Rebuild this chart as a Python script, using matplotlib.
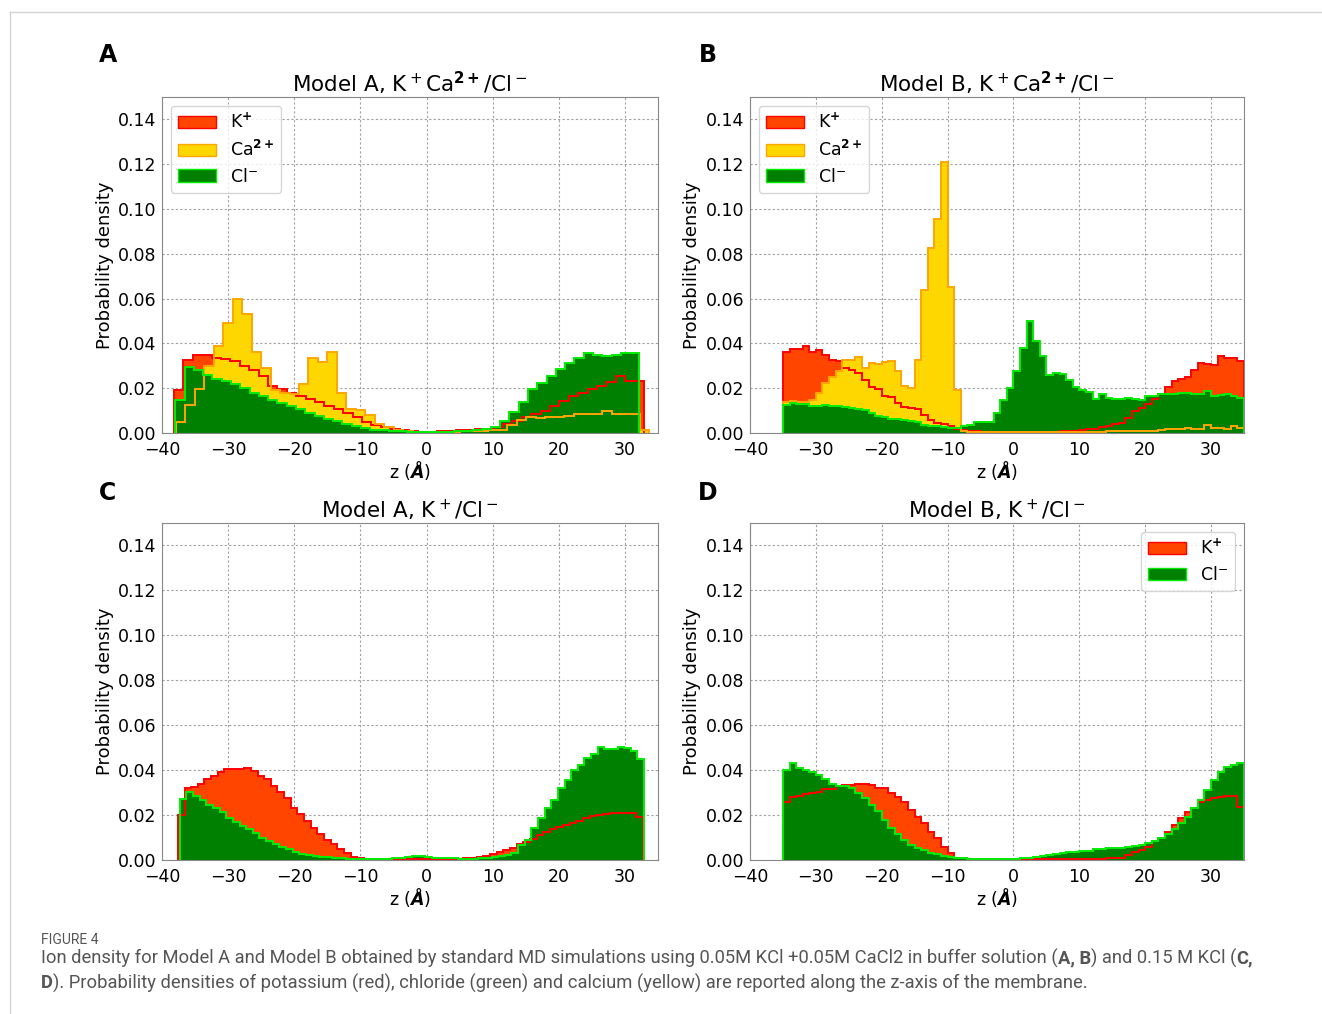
import numpy as np
import matplotlib
matplotlib.use("Agg")
import matplotlib.pyplot as plt
import matplotlib.patches as mpatches
from matplotlib.lines import Line2D

plt.rcParams['font.family'] = 'DejaVu Sans'

# ---- data (probability densities) ----
# panel A: Model A, K+ Ca2+ / Cl-  (50 bins each)
K_A = [0.019, 0.0327, 0.0347, 0.035, 0.0337, 0.033, 0.032, 0.030, 0.028, 0.0255,
       0.021, 0.0195, 0.018, 0.0165, 0.015, 0.0137, 0.012, 0.0105, 0.009, 0.007,
       0.005, 0.0037, 0.0028, 0.0018, 0.0012, 0.0008, 0.0006, 0.0006, 0.0007, 0.0009,
       0.0012, 0.0014, 0.0017, 0.002, 0.0027, 0.004, 0.0054, 0.007, 0.0087, 0.010,
       0.012, 0.0144, 0.0165, 0.0179, 0.0195, 0.021, 0.0227, 0.0253, 0.023, 0.023]
Ca_A = [0.005, 0.0124, 0.0195, 0.030, 0.0387, 0.049, 0.060, 0.053, 0.036, 0.029,
        0.019, 0.018, 0.0175, 0.022, 0.0335, 0.0315, 0.036, 0.018, 0.0105, 0.0102,
        0.008, 0.0042, 0.0027, 0.0015, 0.001, 0.0006, 0.0005, 0.0005, 0.0005, 0.0006,
        0.0008, 0.001, 0.0011, 0.0012, 0.0015, 0.0035, 0.0057, 0.007, 0.0065, 0.007,
        0.0072, 0.0078, 0.0087, 0.0083, 0.0087, 0.0096, 0.0087, 0.0085, 0.0085, 0.0015]
Cl_A = [0.0147, 0.0294, 0.028, 0.026, 0.024, 0.023, 0.0217, 0.020, 0.018, 0.0165,
        0.0147, 0.0132, 0.012, 0.0105, 0.0088, 0.0075, 0.0064, 0.0052, 0.0042, 0.003,
        0.0022, 0.0015, 0.0012, 0.001, 0.0008, 0.0006, 0.0005, 0.0005, 0.0005, 0.0006,
        0.0008, 0.001, 0.0013, 0.0018, 0.0027, 0.0054, 0.0095, 0.014, 0.0195, 0.0225,
        0.0255, 0.0285, 0.0312, 0.0335, 0.0355, 0.035, 0.0345, 0.035, 0.0355, 0.0355]

# panel B: Model B, K+ Ca2+ / Cl-  (70 bins, -35..35)
K_B = [0.0362, 0.0377, 0.0373, 0.039, 0.0362, 0.037, 0.0346, 0.0328, 0.032, 0.029,
       0.0283, 0.027, 0.0238, 0.0206, 0.0197, 0.0164, 0.016, 0.0134, 0.0116, 0.0112,
       0.0107, 0.0082, 0.0057, 0.0045, 0.0042, 0.0033, 0.0018, 0.0012, 0.001, 0.0008,
       0.0006, 0.0005, 0.0005, 0.0005, 0.0005, 0.0005, 0.0005, 0.0005, 0.0005, 0.0005,
       0.0005, 0.0006, 0.0007, 0.0008, 0.001, 0.0012, 0.0016, 0.0018, 0.0028, 0.003,
       0.0039, 0.0046, 0.0069, 0.0099, 0.011, 0.0131, 0.0154, 0.0173, 0.0207, 0.0233,
       0.024, 0.0248, 0.0282, 0.0312, 0.0307, 0.0303, 0.0345, 0.0333, 0.0337, 0.0322]
Ca_B = [0.0137, 0.0142, 0.014, 0.0138, 0.0149, 0.018, 0.0224, 0.025, 0.0276, 0.0325,
        0.0325, 0.034, 0.029, 0.0313, 0.031, 0.0317, 0.0323, 0.0276, 0.0212, 0.0201,
        0.0328, 0.064, 0.0825, 0.0957, 0.121, 0.065, 0.0194, 0.001, 0.0005, 0.0004,
        0.0003, 0.0003, 0.0003, 0.0003, 0.0003, 0.0003, 0.0003, 0.0003, 0.0003, 0.0003,
        0.0003, 0.0003, 0.0003, 0.0004, 0.0004, 0.0005, 0.0005, 0.0006, 0.0006, 0.0007,
        0.0007, 0.0007, 0.0008, 0.0008, 0.0008, 0.0009, 0.001, 0.0012, 0.0016, 0.0016,
        0.0016, 0.0024, 0.002, 0.002, 0.0034, 0.0024, 0.0024, 0.0016, 0.003, 0.0024]
Cl_B = [0.0127, 0.0134, 0.013, 0.013, 0.0122, 0.012, 0.0127, 0.0122, 0.012, 0.0116,
        0.0112, 0.0107, 0.0101, 0.009, 0.0078, 0.0072, 0.0063, 0.0063, 0.0057, 0.0052,
        0.0048, 0.0037, 0.0033, 0.003, 0.0025, 0.0022, 0.0022, 0.003, 0.0035, 0.005,
        0.005, 0.005, 0.009, 0.0148, 0.020, 0.0278, 0.0378, 0.050, 0.041, 0.0345,
        0.026, 0.0267, 0.0263, 0.0237, 0.0207, 0.019, 0.0185, 0.0154, 0.0173, 0.0158,
        0.0154, 0.0154, 0.0158, 0.015, 0.0148, 0.0163, 0.0166, 0.0176, 0.0173, 0.0176,
        0.0178, 0.018, 0.0173, 0.0173, 0.0188, 0.0163, 0.0169, 0.0173, 0.0163, 0.0158]

# panel C: Model A, K+ / Cl-  (70 bins)
K_C = [0.020, 0.032, 0.0326, 0.034, 0.036, 0.0375, 0.039, 0.0403, 0.0404, 0.0407,
       0.041, 0.0396, 0.0375, 0.036, 0.033, 0.0304, 0.0277, 0.023, 0.0203, 0.0173,
       0.0144, 0.0114, 0.0089, 0.007, 0.0049, 0.003, 0.0015, 0.0007, 0.0005, 0.0004,
       0.0003, 0.0003, 0.0003, 0.0003, 0.0003, 0.0003, 0.0003, 0.0003, 0.0003, 0.0003,
       0.0004, 0.0005, 0.0006, 0.0008, 0.001, 0.0015, 0.002, 0.0025, 0.0034, 0.0044,
       0.0055, 0.007, 0.0079, 0.0093, 0.011, 0.0126, 0.0138, 0.0148, 0.0156, 0.0163,
       0.0175, 0.0185, 0.0196, 0.020, 0.0203, 0.021, 0.0207, 0.0207, 0.0207, 0.0193]
Cl_C = [0.027, 0.0304, 0.0286, 0.0267, 0.0244, 0.023, 0.0212, 0.0188, 0.017, 0.0153,
        0.0138, 0.0119, 0.0099, 0.0084, 0.007, 0.0059, 0.0049, 0.0034, 0.0028, 0.0022,
        0.0018, 0.0015, 0.0012, 0.0009, 0.0007, 0.0005, 0.0004, 0.0003, 0.0003, 0.0003,
        0.0004, 0.0006, 0.0008, 0.001, 0.0012, 0.0017, 0.002, 0.0015, 0.0011, 0.001,
        0.001, 0.0008, 0.0006, 0.0006, 0.0006, 0.0008, 0.001, 0.0013, 0.0017, 0.0022,
        0.003, 0.0067, 0.0089, 0.0144, 0.0185, 0.0233, 0.0267, 0.0321, 0.0356, 0.040,
        0.0422, 0.0452, 0.0474, 0.0504, 0.0496, 0.0496, 0.0504, 0.0498, 0.0485, 0.045]

# panel D: Model B, K+ / Cl-  (70 bins, -35..35)
K_D = [0.026, 0.0281, 0.0286, 0.0292, 0.0296, 0.0304, 0.0314, 0.0316, 0.0328, 0.0336,
       0.0333, 0.0339, 0.0339, 0.0333, 0.0322, 0.032, 0.030, 0.028, 0.026, 0.0224,
       0.0193, 0.0163, 0.0126, 0.0096, 0.006, 0.003, 0.0011, 0.0007, 0.0005, 0.0003,
       0.0003, 0.0003, 0.0003, 0.0003, 0.0003, 0.0003, 0.0003, 0.0003, 0.0003, 0.0003,
       0.0003, 0.0003, 0.0003, 0.0003, 0.0003, 0.0003, 0.0005, 0.0005, 0.0005, 0.0007,
       0.0007, 0.001, 0.0022, 0.0034, 0.0044, 0.006, 0.0084, 0.0099, 0.0123, 0.0156,
       0.0185, 0.0215, 0.0233, 0.026, 0.0267, 0.0274, 0.0281, 0.0284, 0.0284, 0.0237]
Cl_D = [0.040, 0.043, 0.041, 0.040, 0.039, 0.0378, 0.036, 0.034, 0.033, 0.033,
        0.0321, 0.030, 0.0274, 0.0244, 0.0218, 0.0178, 0.0144, 0.0114, 0.0089, 0.0067,
        0.0055, 0.0044, 0.0033, 0.0025, 0.0019, 0.0015, 0.001, 0.0008, 0.0006, 0.0005,
        0.0004, 0.0004, 0.0004, 0.0004, 0.0005, 0.0006, 0.0008, 0.001, 0.0013, 0.0016,
        0.0022, 0.0027, 0.003, 0.0034, 0.0037, 0.004, 0.0042, 0.0047, 0.0048, 0.0052,
        0.0053, 0.0055, 0.0058, 0.0061, 0.0067, 0.0074, 0.0084, 0.0096, 0.0114, 0.0138,
        0.0163, 0.0193, 0.023, 0.0267, 0.0311, 0.0356, 0.0393, 0.0415, 0.0425, 0.043]

# z ranges covered by each histogram (first and last bin edge)
range_K_A, range_Ca_A, range_Cl_A = (-38.2, 32.9), (-37.9, 33.7), (-38.0, 32.2)
range_B = (-35.0, 35.0)
range_K_C, range_Cl_C = (-37.6, 32.7), (-37.3, 32.9)
range_D = (-35.0, 35.0)

titles = ['Model A, K$^+$Ca$^{\\mathbf{2+}}$/Cl$^-$',
          'Model B, K$^+$Ca$^{\\mathbf{2+}}$/Cl$^-$',
          'Model A, K$^+$/Cl$^-$',
          'Model B, K$^+$/Cl$^-$']
letters = ['A', 'B', 'C', 'D']
yticks = [0.00, 0.02, 0.04, 0.06, 0.08, 0.10, 0.12, 0.14]
xticks = [-40, -30, -20, -10, 0, 10, 20, 30]

ions = {'K': ('K$^{\\mathbf{+}}$', '#ff4500', '#ff0000'),
        'Ca': ('Ca$^{\\mathbf{2+}}$', '#ffd700', '#ffa500'),
        'Cl': ('Cl$^{-}$', '#008000', '#00ee00')}

W, H = 1322, 1014
fig = plt.figure(figsize=(W / 100, H / 100), dpi=100)


def px_axes(l, t, r, b):
    return fig.add_axes([l / W, 1 - b / H, (r - l) / W, (b - t) / H])


def draw_panel(ax, series, title, ylab_x):
    # fills first, then the outlines on top (as in the original)
    for ion, vals, rng in series:
        edges = np.linspace(rng[0], rng[1], len(vals) + 1)
        ax.stairs(vals, edges, fill=True, color=ions[ion][1], lw=0)
    for ion, vals, rng in series:
        edges = np.linspace(rng[0], rng[1], len(vals) + 1)
        ax.stairs(vals, edges, color=ions[ion][2], lw=1.4)
    ax.set_xlim(-40, 35)
    ax.set_ylim(0, 0.15)
    ax.set_xticks(xticks)
    ax.set_yticks(yticks)
    ax.set_yticklabels(['%.2f' % v for v in yticks])
    ax.tick_params(labelsize=12.5, length=0)
    ax.tick_params(axis='y', pad=4)
    ax.tick_params(axis='x', pad=5.5)
    ax.grid(True, ls=(0, (2, 2)), color='#a0a0a0', lw=0.8)
    ax.set_axisbelow(True)
    for s in ax.spines.values():
        s.set_color('#888888')
    ax.set_title(title, fontsize=15.5, pad=3)
    ax.set_xlabel('z ($\\mathbfit{\\AA}$)', fontsize=12.5, labelpad=0)
    ax.set_ylabel('Probability density', fontsize=13)
    ax.yaxis.set_label_coords(ylab_x, 0.5)


def legend(ax, keys, loc):
    handles = [mpatches.Patch(facecolor=ions[k][1], edgecolor=ions[k][2], label=ions[k][0])
               for k in keys]
    ax.legend(handles=handles, loc=loc, fontsize=12.5, handlelength=2.2, labelspacing=0.45)


axA = px_axes(162, 97, 658, 433)
axB = px_axes(750, 97, 1244, 433)
axC = px_axes(162, 523, 658, 860)
axD = px_axes(750, 523, 1244, 860)

draw_panel(axA, [('K', K_A, range_K_A), ('Ca', Ca_A, range_Ca_A), ('Cl', Cl_A, range_Cl_A)], titles[0], -0.097)
draw_panel(axB, [('K', K_B, range_B), ('Ca', Ca_B, range_B), ('Cl', Cl_B, range_B)], titles[1], -0.099)
draw_panel(axC, [('K', K_C, range_K_C), ('Cl', Cl_C, range_Cl_C)], titles[2], -0.097)
draw_panel(axD, [('K', K_D, range_D), ('Cl', Cl_D, range_D)], titles[3], -0.099)

legend(axA, ['K', 'Ca', 'Cl'], 'upper left')
legend(axB, ['K', 'Ca', 'Cl'], 'upper left')
legend(axD, ['K', 'Cl'], 'upper right')

for letter, (x, y) in zip(letters, [(108, 55), (708, 55), (108, 493), (708, 493)]):
    fig.text(x / W, 1 - y / H, letter, fontsize=17, fontweight='bold', ha='center', va='center')

# page frame of the article figure
fig.add_artist(Line2D([10 / W, 1], [1 - 12 / H] * 2, color='#d4d4d4', lw=1))
fig.add_artist(Line2D([10 / W] * 2, [0, 1 - 12 / H], color='#d4d4d4', lw=1))

# caption
cap_color = '#555555'
fig.text(41 / W, 1 - 940 / H, 'FIGURE 4', fontsize=10, color=cap_color,
         fontfamily='Roboto', va='center')

line1 = [('Ion density for Model A and Model B obtained by standard MD simulations using '
          '0.05M KCl +0.05M CaCl2 in buffer solution (', 'normal'),
         ('A, B', 'bold'), (') and 0.15 M KCl (', 'normal'), ('C,', 'bold')]
line2 = [('D', 'bold'),
         ('). Probability densities of potassium (red), chloride (green) and calcium (yellow) '
          'are reported along the z-axis of the membrane.', 'normal')]

renderer = fig.canvas.get_renderer()
for parts, ypx in [(line1, 958), (line2, 983)]:
    x = 41
    for s, wt in parts:
        t = fig.text(x / W, 1 - ypx / H, s, fontsize=13.2, color=cap_color,
                     fontfamily='Roboto', fontweight=wt, va='center')
        x += t.get_window_extent(renderer).width

fig.savefig('out.png', dpi=100, facecolor='white')
